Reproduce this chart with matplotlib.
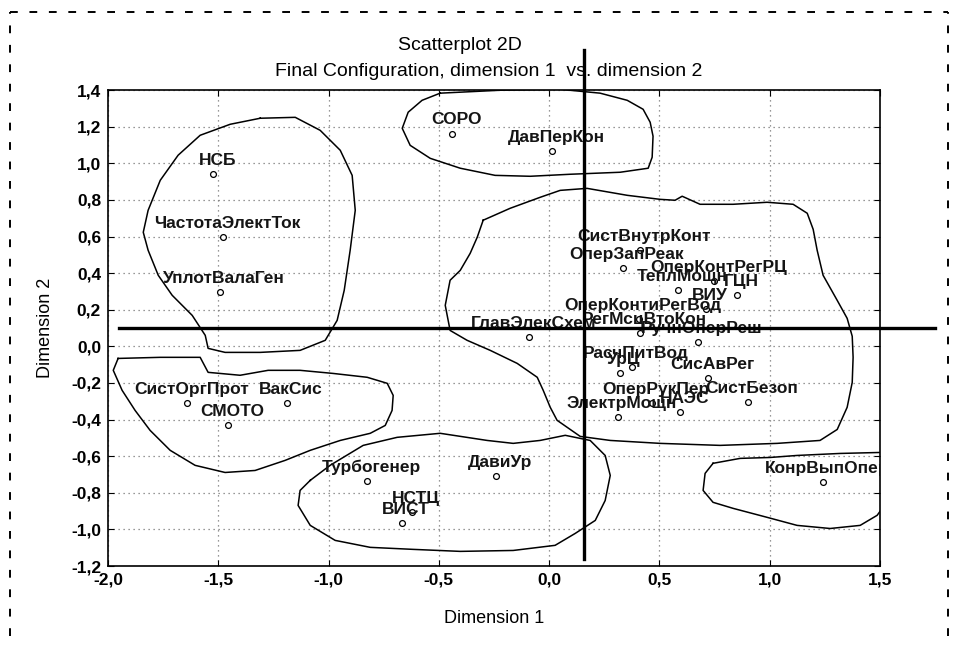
import matplotlib
matplotlib.use("Agg")
import matplotlib.pyplot as plt
from matplotlib.lines import Line2D
from matplotlib.ticker import FuncFormatter, MultipleLocator

plt.rcParams['font.family'] = ['Liberation Sans', 'DejaVu Sans']

# MDS configuration: item labels and their coordinates
names = ['НСБ', 'ЧастотаЭлектТок', 'УплотВалаГен', 'СОРО', 'ДавПерКон',
         'ГлавЭлекСхем', 'СистВнутрКонт', 'ОперЗапРеак', 'ТеплМощн', 'ОперКонтРегРЦ',
         'ГЦН', 'ВИУ', 'ОперКонтиРегВод', 'РегМсцВтоКон', 'РучнОперРеш',
         'РасчПитВод', 'УрЦ', 'СисАвРег', 'ОперРукПер', 'СистБезоп',
         'ЭлектрМощн', 'НАЭС', 'СистОргПрот', 'ВакСис', 'СМОТО',
         'Турбогенер', 'ДавиУр', 'НСТЦ', 'ВИСТ', 'КонрВыпОпер']
dim1 = [-1.523, -1.478, -1.491, -0.44, 0.014,
        -0.09, 0.41, 0.335, 0.585, 0.748,
        0.852, 0.712, 0.408, 0.413, 0.675,
        0.376, 0.322, 0.721, 0.467, 0.902,
        0.313, 0.594, -1.641, -1.188, -1.455,
        -0.825, -0.24, -0.621, -0.666, 1.242]
dim2 = [0.940, 0.596, 0.295, 1.16, 1.066,
        0.05, 0.525, 0.426, 0.306, 0.355,
        0.279, 0.202, 0.148, 0.071, 0.022,
        -0.115, -0.148, -0.175, -0.311, -0.306,
        -0.388, -0.361, -0.311, -0.311, -0.432,
        -0.738, -0.71, -0.907, -0.967, -0.743]

# hand-drawn cluster outlines (dimension 1, dimension 2)
outline_a_x = [-1.310, -1.151, -1.038, -0.947, -0.893, -0.879, -0.902, -0.929, -0.961, -1.015,
               -1.129, -1.310, -1.469, -1.546, -1.559, -1.618, -1.709, -1.772, -1.818, -1.840,
               -1.818, -1.763, -1.682, -1.582, -1.446, -1.310]
outline_a_y = [1.246, 1.251, 1.180, 1.071, 0.934, 0.743, 0.525, 0.306, 0.142, 0.033,
               -0.022, -0.033, -0.033, -0.011, 0.060, 0.169, 0.279, 0.388, 0.525, 0.623,
               0.743, 0.907, 1.044, 1.153, 1.213, 1.246]
outline_b_x = [-0.494, -0.222, 0.050, 0.231, 0.354, 0.426, 0.458, 0.471, 0.467, 0.449,
               0.322, 0.095, -0.086, -0.245, -0.403, -0.539, -0.630, -0.666, -0.639, -0.576, -0.494]
outline_b_y = [1.383, 1.399, 1.404, 1.383, 1.344, 1.295, 1.224, 1.148, 1.033, 0.973,
               0.951, 0.940, 0.929, 0.934, 0.973, 1.027, 1.098, 1.191, 1.279, 1.344, 1.383]
outline_c_x = [-0.299, -0.177, -0.041, 0.050, 0.172, 0.354, 0.503, 0.571, 0.603, 0.684,
               0.834, 0.988, 1.106, 1.170, 1.197, 1.215, 1.242, 1.306, 1.351, 1.374,
               1.378, 1.374, 1.351, 1.306, 1.228, 1.034, 0.775, 0.503, 0.277, 0.141,
               0.036, 0.005, -0.027, -0.054, -0.145, -0.267, -0.372, -0.449, -0.471, -0.449,
               -0.403, -0.358, -0.326, -0.299]
outline_c_y = [0.689, 0.754, 0.814, 0.852, 0.863, 0.825, 0.803, 0.798, 0.820, 0.776,
               0.776, 0.787, 0.776, 0.727, 0.639, 0.525, 0.388, 0.251, 0.153, 0.055,
               -0.060, -0.197, -0.333, -0.454, -0.514, -0.530, -0.541, -0.530, -0.514, -0.492,
               -0.404, -0.333, -0.240, -0.169, -0.093, -0.022, 0.033, 0.087, 0.224, 0.361,
               0.415, 0.508, 0.596, 0.689]
outline_d_x = [-1.954, -1.763, -1.582, -1.546, -1.401, -1.274, -1.129, -0.979, -0.825, -0.734,
               -0.707, -0.712, -0.743, -0.811, -0.947, -1.083, -1.197, -1.333, -1.469, -1.605,
               -1.718, -1.809, -1.877, -1.936, -1.976, -1.954]
outline_d_y = [-0.066, -0.060, -0.060, -0.142, -0.158, -0.131, -0.131, -0.148, -0.169, -0.202,
               -0.268, -0.350, -0.432, -0.475, -0.514, -0.568, -0.623, -0.678, -0.689, -0.650,
               -0.568, -0.459, -0.350, -0.240, -0.131, -0.066]
outline_e_x = [-1.083, -0.993, -0.843, -0.689, -0.494, -0.281, -0.163, -0.041, 0.073, 0.186,
               0.254, 0.277, 0.254, 0.209, 0.118, 0.027, -0.163, -0.403, -0.617, -0.811,
               -0.970, -1.083, -1.138, -1.129, -1.083]
outline_e_y = [-0.732, -0.650, -0.541, -0.497, -0.475, -0.514, -0.530, -0.514, -0.486, -0.514,
               -0.596, -0.705, -0.842, -0.951, -1.022, -1.087, -1.115, -1.120, -1.109, -1.098,
               -1.060, -0.978, -0.869, -0.787, -0.732]
outline_f_x = [0.743, 0.866, 1.002, 1.124, 1.319, 1.523, 1.523, 1.510, 1.487, 1.410,
               1.274, 1.124, 0.988, 0.834, 0.743, 0.698, 0.707, 0.743]
outline_f_y = [-0.639, -0.612, -0.607, -0.596, -0.585, -0.579, -0.842, -0.885, -0.923, -0.978,
               -0.995, -0.978, -0.934, -0.885, -0.852, -0.787, -0.694, -0.639]

# reference cross lines
cross_x = 0.16
cross_y = 0.10

fig = plt.figure(figsize=(9.58, 6.46), dpi=100)
ax = fig.add_axes([0.1127, 0.1238, 0.8059, 0.7368])

for ox, oy in [(outline_a_x, outline_a_y), (outline_b_x, outline_b_y), (outline_c_x, outline_c_y),
               (outline_d_x, outline_d_y), (outline_e_x, outline_e_y), (outline_f_x, outline_f_y)]:
    ax.plot(ox, oy, color='black', lw=1.1, zorder=2)

ax.plot(dim1, dim2, 'o', ms=4.2, mfc='white', mec='black', mew=0.9, zorder=3)

for name, x, y in zip(names, dim1, dim2):
    ax.annotate(name, (x, y), xytext=(4, 14), textcoords='offset pixels',
                ha='center', va='center', fontsize=12.5, fontweight='bold',
                color='#151515', annotation_clip=False, clip_on=True, zorder=4)

ax.plot([cross_x, cross_x], [-1.16, 1.62], color='black', lw=2.4, clip_on=False, zorder=5)
ax.plot([-1.95, 1.75], [cross_y, cross_y], color='black', lw=2.4, clip_on=False, zorder=5)

ax.set_xlim(-2.0, 1.5)
ax.set_ylim(-1.2, 1.4)
ax.xaxis.set_major_locator(MultipleLocator(0.5))
ax.yaxis.set_major_locator(MultipleLocator(0.2))
comma = FuncFormatter(lambda v, p: f'{v:.1f}'.replace('.', ',').replace('-0,0', '0,0'))
ax.xaxis.set_major_formatter(comma)
ax.yaxis.set_major_formatter(comma)
ax.tick_params(direction='in', length=4, width=0.8, top=True, right=True,
               labelsize=12.5, pad=5)
for lbl in ax.get_xticklabels() + ax.get_yticklabels():
    lbl.set_fontweight('bold')
ax.grid(True, linestyle=(0, (1, 3)), color='#777777', lw=0.9)
for s in ax.spines.values():
    s.set_linewidth(1.2)

ax.set_xlabel('Dimension 1', fontsize=13, labelpad=16)
ax.set_ylabel('Dimension 2', fontsize=13, labelpad=12)

fig.text(0.480, 0.930, 'Scatterplot 2D', ha='center', va='center', fontsize=14)
fig.text(0.510, 0.890, 'Final Configuration, dimension 1  vs. dimension 2',
         ha='center', va='center', fontsize=14)

# dashed frame around the figure
dash = dict(color='black', lw=1.4, linestyle=(0, (4, 6)), transform=fig.transFigure)
fig.add_artist(Line2D([0.0104, 0.9896], [0.981, 0.981], **dash))
fig.add_artist(Line2D([0.0104, 0.0104], [0.0155, 0.981], **dash))
fig.add_artist(Line2D([0.9896, 0.9896], [0.0155, 0.981], **dash))

fig.savefig('out.png', dpi=100)
